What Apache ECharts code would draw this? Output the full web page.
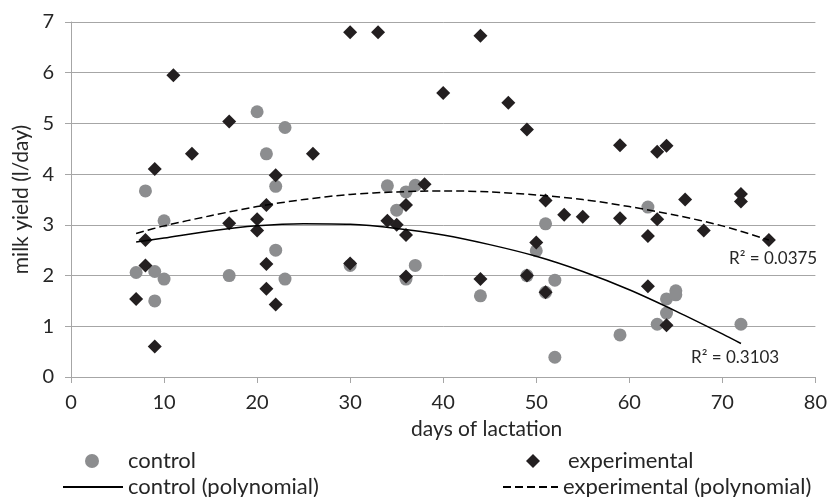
<!DOCTYPE html>
<html style="height: 100%">
<head>
    <meta charset="utf-8">
    <script src="https://cdn.jsdelivr.net/npm/echarts@6/dist/echarts.min.js"></script>
    <title>milk yield</title>
</head>
<body style="height: 100%; margin: 0; background: #fff">
<div id="container" style="width: 830px; height: 497px"></div>
<script type="text/javascript">
// control group: [day, milk yield]
let controlDays  = [7, 8, 9, 9, 10, 10, 17, 20, 21, 22, 22, 23, 23, 30, 34, 35, 36, 36, 37, 37, 44, 49, 50, 51, 51, 52, 52, 59, 62, 63, 64, 64, 65, 65, 72]
let controlYield = [2.06, 3.67, 2.08, 1.5, 3.08, 1.93, 2.0, 5.23, 4.4, 3.76, 2.5, 4.92, 1.93, 2.2, 3.77, 3.29, 3.65, 1.93, 3.78, 2.2, 1.6, 2.0, 2.49, 3.02, 1.67, 1.91, 0.39, 0.83, 3.35, 1.04, 1.54, 1.26, 1.7, 1.62, 1.04]

// experimental group
let expDays  = [7, 8, 8, 9, 9, 11, 13, 17, 17, 20, 20, 21, 21, 21, 22, 22, 26, 30, 30, 33, 34, 35, 36, 36, 36, 38, 40, 44, 44, 47, 49, 49, 50, 51, 51, 53, 55, 59, 59, 62, 62, 63, 63, 64, 64, 66, 68, 72, 72, 75]
let expYield = [1.54, 2.7, 2.2, 0.6, 4.1, 5.95, 4.4, 5.04, 3.03, 3.11, 2.89, 3.39, 2.23, 1.74, 3.98, 1.43, 4.4, 6.8, 2.24, 6.8, 3.08, 3.0, 3.39, 2.8, 1.98, 3.8, 5.6, 6.73, 1.93, 5.41, 4.88, 2.0, 2.65, 3.48, 1.67, 3.2, 3.16, 4.57, 3.13, 2.78, 1.79, 4.44, 3.11, 4.56, 1.02, 3.5, 2.89, 3.61, 3.46, 2.7]

// trend lines
let controlFitDays  = [7, 10, 15, 20, 25, 30, 35, 40, 45, 50, 55, 60, 65, 70, 72]
let controlFitYield = [2.66, 2.74, 2.88, 2.98, 3.02, 3.01, 2.93, 2.80, 2.61, 2.38, 2.08, 1.72, 1.30, 0.85, 0.66]
let expFitDays  = [7, 10, 15, 20, 25, 30, 35, 40, 45, 50, 55, 60, 65, 70, 75]
let expFitYield = [2.83, 2.98, 3.18, 3.36, 3.50, 3.60, 3.65, 3.67, 3.65, 3.59, 3.50, 3.36, 3.19, 2.98, 2.70]

let r2Control = 'R² = 0.3103'
let r2Exp = 'R² = 0.0375'

function pairs(xs, ys) {
    return xs.map((x, i) => [x, ys[i]])
}

const FONT = 'Lato'
const TXT = '#262626'
const GRID = '#a6a6a6'

// one legend per entry, so each can sit where it does in the picture
function legendAt(name, left, top, w, textPad, hideSymbol) {
    let item = {name: name}
    if (hideSymbol) item.itemStyle = {opacity: 0}
    return {
        left: left, top: top, padding: 0,
        itemWidth: w, itemHeight: 14,
        textStyle: {color: TXT, fontSize: 22, fontFamily: FONT, padding: [0, 0, 0, textPad]},
        data: [item]
    }
}

let chart = echarts.init(document.getElementById('container'))
chart.setOption({
    animation: false,
    textStyle: {fontFamily: FONT},
    grid: {left: 71, right: 12, top: 22, bottom: 120},
    xAxis: {
        type: 'value',
        min: 0, max: 80, interval: 10,
        name: 'days of lactation',
        nameLocation: 'middle',
        nameGap: 42,
        nameTextStyle: {color: TXT, fontSize: 21, fontFamily: FONT, padding: [0, 0, 0, 87]},
        axisLine: {show: true, lineStyle: {color: GRID, width: 1}},
        axisTick: {show: true, length: 6, lineStyle: {color: GRID}},
        axisLabel: {color: TXT, fontSize: 20, fontFamily: FONT, margin: 16},
        splitLine: {show: false}
    },
    yAxis: {
        type: 'value',
        min: 0, max: 7, interval: 1,
        name: 'milk yield (l/day)',
        nameLocation: 'middle',
        nameGap: 39,
        nameTextStyle: {color: TXT, fontSize: 21, fontFamily: FONT},
        axisLine: {show: true, lineStyle: {color: GRID, width: 1}},
        axisTick: {show: true, length: 6, lineStyle: {color: GRID}},
        axisLabel: {color: TXT, fontSize: 20, fontFamily: FONT, margin: 17},
        splitLine: {show: true, lineStyle: {color: GRID, width: 1}}
    },
    legend: [
        legendAt('control', 85, 450, 14, 24, false),
        legendAt('control (polynomial)', 62, 476, 60, 0, true),
        legendAt('experimental', 526, 450, 14, 23, false),
        legendAt('experimental (polynomial)', 502, 476, 55, 0, true)
    ],
    series: [
        {
            name: 'control',
            type: 'scatter',
            symbol: 'circle',
            symbolSize: 13,
            itemStyle: {color: '#8c8d8f', opacity: 1},
            z: 2,
            data: pairs(controlDays, controlYield)
        },
        {
            name: 'experimental',
            type: 'scatter',
            symbol: 'diamond',
            symbolSize: 14,
            itemStyle: {color: '#231f20', opacity: 1},
            z: 3,
            data: pairs(expDays, expYield)
        },
        {
            name: 'control (polynomial)',
            type: 'line',
            smooth: 0.3,
            symbol: 'none',
            lineStyle: {color: '#000', width: 1.5},
            itemStyle: {color: '#000'},
            z: 4,
            data: pairs(controlFitDays, controlFitYield)
        },
        {
            name: 'experimental (polynomial)',
            type: 'line',
            smooth: 0.3,
            symbol: 'none',
            lineStyle: {color: '#000', width: 1.5, type: [8, 4]},
            itemStyle: {color: '#000'},
            z: 4,
            data: pairs(expFitDays, expFitYield)
        }
    ],
    graphic: [
        {type: 'text', left: 729, top: 250, style: {text: r2Exp, fill: TXT, font: '17px Lato'}},
        {type: 'text', left: 691, top: 349, style: {text: r2Control, fill: TXT, font: '17px Lato'}}
    ]
}, true)
</script>
</body>
</html>
